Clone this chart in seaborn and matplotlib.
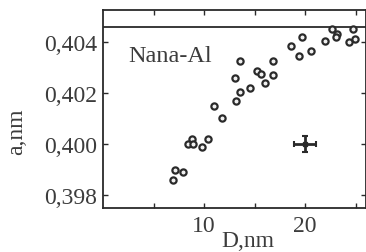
import matplotlib
matplotlib.use("Agg")
import matplotlib.pyplot as plt
import seaborn as sns
import pandas as pd

# Data
D_nm = [6.96, 7.13, 7.89, 8.45, 8.78, 8.91, 9.77, 10.43, 10.99, 11.75,
        13.17, 13.56, 13.10, 13.56, 14.55, 15.22, 15.61, 16.04, 16.80, 16.80,
        18.61, 19.73, 19.44, 20.56, 21.98, 22.64, 23.14, 23.07, 24.39, 24.95, 24.78]
a_nm = [0.39860, 0.39899, 0.39889, 0.39999, 0.40018, 0.40000, 0.39987, 0.40020, 0.40150, 0.40102,
        0.40170, 0.40203, 0.40258, 0.40324, 0.40220, 0.40285, 0.40276, 0.40240, 0.40324, 0.40271,
        0.40383, 0.40418, 0.40344, 0.40364, 0.40403, 0.40451, 0.40431, 0.40418, 0.40401, 0.40412, 0.40451]

err_D = [20.0]
err_a = [0.4000]
err_dx = [1.1]
err_dy = [0.0003]

ref_level = 0.4046

x_ticks = [5, 10, 15, 20, 25]
x_tick_labels = ["", "10", "", "20", ""]
y_ticks = [0.398, 0.400, 0.402, 0.404]
y_tick_labels = ["0,398", "0,400", "0,402", "0,404"]

label_text = "Nana-Al"
x_label = "D,nm"
y_label = "a,nm"

sns.set_theme(style="ticks")
plt.rcParams["font.family"] = ["Liberation Serif", "DejaVu Serif"]

df = pd.DataFrame({"D": D_nm, "a": a_nm})

fig = plt.figure(figsize=(3.66, 2.53), dpi=100)
ax = fig.add_axes([103 / 366, 1 - 209 / 253, 262.7 / 366, (209 - 10.7) / 253])

ink = "#2a2a2a"
txt = "#3c3c3c"
sns.scatterplot(data=df, x="D", y="a", ax=ax, marker="o", s=20,
                facecolor="#f0f0f0", edgecolor=ink, linewidth=1.6, zorder=3)

ax.errorbar(err_D, err_a, xerr=err_dx, yerr=err_dy, fmt="s", color=ink,
            markersize=3.5, elinewidth=2.0, capsize=2.5, capthick=1.5, zorder=3)

ax.axhline(ref_level, color=ink, lw=1.3, zorder=2)

ax.set_xlim(0, 26.0)
ax.set_ylim(0.39749, 0.40527)

ax.set_xticks(x_ticks)
ax.set_xticklabels(x_tick_labels)
ax.set_yticks(y_ticks)
ax.set_yticklabels(y_tick_labels)

ax.tick_params(axis="both", direction="in", length=3.5, width=1.0, color=ink,
               labelsize=17, labelcolor=txt, top=True, right=True, pad=4)
ax.tick_params(axis="x", pad=5)

for sp in ax.spines.values():
    sp.set_visible(True)
    sp.set_color(ink)
    sp.set_linewidth(1.3)

ax.set_xlabel(x_label, fontsize=17, color=txt)
ax.set_ylabel(y_label, fontsize=17, color=txt)
ax.xaxis.set_label_coords(0.552, -0.11)
ax.yaxis.set_label_coords(-0.29, 0.39)

ax.text((128 - 103) / 262.7, (209 - 56) / 198.3, label_text, transform=ax.transAxes,
        fontsize=17.5, color=txt, va="center", ha="left")

fig.savefig("out.png", dpi=100, facecolor="white")
